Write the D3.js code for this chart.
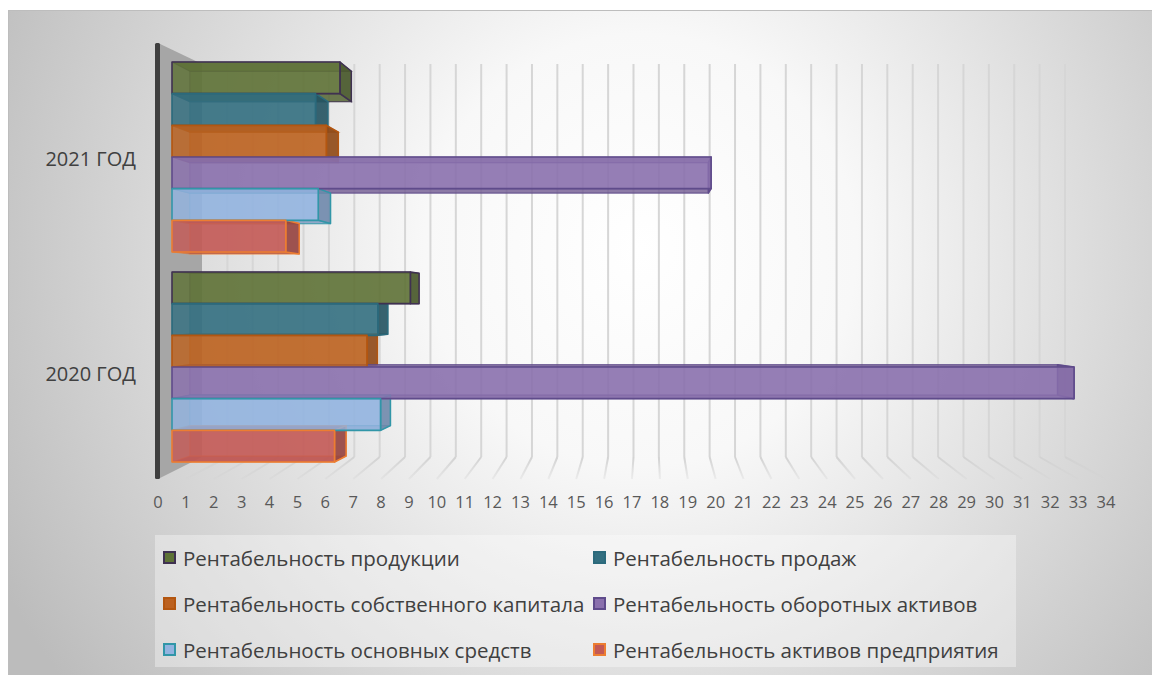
<!DOCTYPE html>
<html>
<head>
<meta charset="utf-8">
<script src="https://cdn.jsdelivr.net/npm/d3@7"></script>
<style>
  html, body { margin: 0; padding: 0; background: #ffffff; }
  svg { display: block; }
  text { font-family: "Open Sans", "Noto Sans", "DejaVu Sans", sans-serif; }
</style>
</head>
<body>
<svg id="chart" width="1152" height="675"></svg>
<script>
// ---- data ----
const categories = ["2021 ГОД", "2020 ГОД"];
const seriesNames = [
  "Рентабельность продукции",
  "Рентабельность продаж",
  "Рентабельность собственного капитала",
  "Рентабельность оборотных активов",
  "Рентабельность основных средств",
  "Рентабельность активов предприятия"
];
const values2021 = [6.2, 5.3, 5.7, 19.9, 5.4, 4.2];
const values2020 = [8.8, 7.6, 7.2, 33.3, 7.7, 6.0];
const xTicks = d3.range(0, 35);

// ---- styles ----
const fills   = ["#5e7236", "#336f80", "#bc611f", "#8a70ad", "#93b3df", "#c35955"];
const strokes = ["#3f3151", "#2b6a7c", "#b35610", "#5f4b8b", "#3196a8", "#ed7d31"];

const svg = d3.select("#chart");
const defs = svg.append("defs");

// chart area background
const bg = defs.append("radialGradient").attr("id", "bgGrad")
  .attr("gradientUnits", "userSpaceOnUse")
  .attr("cx", 640).attr("cy", 250).attr("r", 720);
bg.append("stop").attr("offset", 0).attr("stop-color", "#ffffff");
bg.append("stop").attr("offset", 0.3).attr("stop-color", "#f8f8f8");
bg.append("stop").attr("offset", 1).attr("stop-color", "#bcbcbc");

const floorGrad = defs.append("linearGradient").attr("id", "floorGrad")
  .attr("gradientUnits", "userSpaceOnUse")
  .attr("x1", 0).attr("y1", 457).attr("x2", 0).attr("y2", 480);
floorGrad.append("stop").attr("offset", 0).attr("stop-color", "#d2d2d2").attr("stop-opacity", 1);
floorGrad.append("stop").attr("offset", 1).attr("stop-color", "#d2d2d2").attr("stop-opacity", 0.25);

svg.append("rect")
  .attr("x", 8.5).attr("y", 10.5).attr("width", 1150).attr("height", 670)
  .attr("fill", "url(#bgGrad)").attr("stroke", "#bdbdbd").attr("stroke-width", 1);

// ---- 3D geometry ----
const VP = { x: 640, y: 305 };   // vanishing point of the perspective
const DEPTH = 0.038;             // bar depth as a fraction toward the vanishing point
const WALL_TOP = 64, WALL_BOTTOM = 457, FLOOR_FRONT = 479, EDGE_TOP = 43;

const xFloor = d3.scaleLinear().domain([0, 34]).range([158, 1106]); // front edge of the floor
const xWall  = d3.scaleLinear().domain([0, 34]).range([202, 1065]); // back wall
const xBar   = d3.scaleLinear().domain([0, 34]).range([172, 1093]); // front faces of the bars

const yCat   = d3.scaleBand().domain(categories).range([52, 472]);
const ySer   = d3.scaleBand().domain(d3.range(seriesNames.length)).range([10, 200]);
const yLabel = d3.scaleBand().domain(categories).range([51, 481]);

const shrink = p => [p[0] + (VP.x - p[0]) * DEPTH, p[1] + (VP.y - p[1]) * DEPTH];
const poly = pts => "M" + pts.map(p => p.join(",")).join("L") + "Z";

// back wall gridlines
const grid = svg.append("g");
grid.selectAll("line.wall").data(xTicks.slice(1)).join("line")
  .attr("class", "wall")
  .attr("x1", d => xWall(d)).attr("x2", d => xWall(d))
  .attr("y1", WALL_TOP).attr("y2", WALL_BOTTOM)
  .attr("stroke", "#d6d6d6").attr("stroke-width", 2);
// floor gridlines running toward the front edge
grid.selectAll("line.floor").data(xTicks.slice(1)).join("line")
  .attr("class", "floor")
  .attr("x1", d => xWall(d)).attr("y1", WALL_BOTTOM)
  .attr("x2", d => xFloor(d)).attr("y2", FLOOR_FRONT)
  .attr("stroke", "url(#floorGrad)").attr("stroke-width", 2);

// left side wall
svg.append("path")
  .attr("d", poly([[xFloor(0), EDGE_TOP], [xWall(0), WALL_TOP], [xWall(0), WALL_BOTTOM], [xFloor(0), FLOOR_FRONT]]))
  .attr("fill", "#a6a6a6");
svg.append("rect")
  .attr("x", xFloor(0) - 3).attr("y", EDGE_TOP).attr("width", 5).attr("height", FLOOR_FRONT - EDGE_TOP)
  .attr("rx", 1.5).attr("fill", "#3f3f3f");

// ---- bars ----
const barData = [];
categories.forEach((cat, ci) => {
  const vals = ci === 0 ? values2021 : values2020;
  vals.forEach((v, si) => {
    const y0 = yCat(cat) + ySer(si);
    const y1 = y0 + ySer.bandwidth();
    const x0 = xBar(0), x1 = xBar(v);
    const F = [[x0, y0], [x1, y0], [x1, y1], [x0, y1]];
    barData.push({ cat, si, v, F, B: F.map(shrink) });
  });
});

const backLayer = svg.append("g");
const frontLayer = svg.append("g");

barData.forEach(d => {
  const c = fills[d.si], s = strokes[d.si];
  const g = backLayer.append("g");
  // rear face
  g.append("path").attr("d", poly(d.B))
    .attr("fill", c).attr("fill-opacity", 0.45)
    .attr("stroke", s).attr("stroke-opacity", 0.45).attr("stroke-width", 1.2);
  // upper and lower faces
  g.append("path").attr("d", poly([d.F[0], d.F[1], d.B[1], d.B[0]]))
    .attr("fill", d3.color(c).darker(0.5)).attr("fill-opacity", 0.7)
    .attr("stroke", s).attr("stroke-opacity", 0.6).attr("stroke-width", 1.2);
  g.append("path").attr("d", poly([d.F[3], d.F[2], d.B[2], d.B[3]]))
    .attr("fill", d3.color(c).darker(0.5)).attr("fill-opacity", 0.7)
    .attr("stroke", s).attr("stroke-opacity", 0.6).attr("stroke-width", 1.2);
  // end cap
  g.append("path").attr("d", poly([d.F[1], d.B[1], d.B[2], d.F[2]]))
    .attr("fill", d3.color(c).darker(0.8)).attr("fill-opacity", 0.85)
    .attr("stroke", s).attr("stroke-width", 1.5).attr("stroke-linejoin", "round");
});

frontLayer.selectAll("path").data(barData).join("path")
  .attr("d", d => poly(d.F))
  .attr("fill", d => fills[d.si]).attr("fill-opacity", 0.82)
  .attr("stroke", d => strokes[d.si]).attr("stroke-width", 1.6)
  .attr("stroke-linejoin", "round");

// ---- axes ----
// condense text horizontally so a label of the given index spans the target width
const condense = (sel, refIndex, target) => {
  const widths = sel.nodes().map(n => n.getComputedTextLength());
  const k = Math.min(1, target / widths[refIndex]);
  sel.each(function (d, i) {
    d3.select(this).attr("textLength", widths[i] * k).attr("lengthAdjust", "spacingAndGlyphs");
  });
};

svg.append("g").selectAll("text").data(xTicks).join("text")
  .attr("x", d => xFloor(d)).attr("y", 508)
  .attr("text-anchor", "middle").attr("font-size", 16.5).attr("fill", "#595959")
  .text(d => d);

const catLabels = svg.append("g").selectAll("text").data(categories).join("text")
  .attr("x", 136).attr("y", d => yLabel(d) + yLabel.bandwidth() / 2 + 7)
  .attr("text-anchor", "end").attr("font-size", 20).attr("fill", "#404040")
  .text(d => d);
condense(catLabels, 0, 94);

// ---- legend ----
svg.append("rect")
  .attr("x", 155).attr("y", 535).attr("width", 861).attr("height", 132)
  .attr("fill", "#ffffff").attr("fill-opacity", 0.35);

const legCol = d3.scaleOrdinal().domain([0, 1]).range([163, 593]);
const legRow = d3.scalePoint().domain([0, 1, 2]).range([558, 650]);

const leg = svg.append("g").selectAll("g").data(seriesNames).join("g")
  .attr("transform", (d, i) => `translate(${legCol(i % 2)},${legRow(Math.floor(i / 2))})`);
leg.append("rect")
  .attr("x", 1).attr("y", -6).attr("width", 11).attr("height", 11)
  .attr("fill", (d, i) => fills[i]).attr("stroke", (d, i) => strokes[i]).attr("stroke-width", 2);
const legText = leg.append("text")
  .attr("x", 20).attr("y", 7.5)
  .attr("font-size", 20.5).attr("fill", "#404040")
  .text(d => d);
condense(legText, 2, 404);
</script>
</body>
</html>
